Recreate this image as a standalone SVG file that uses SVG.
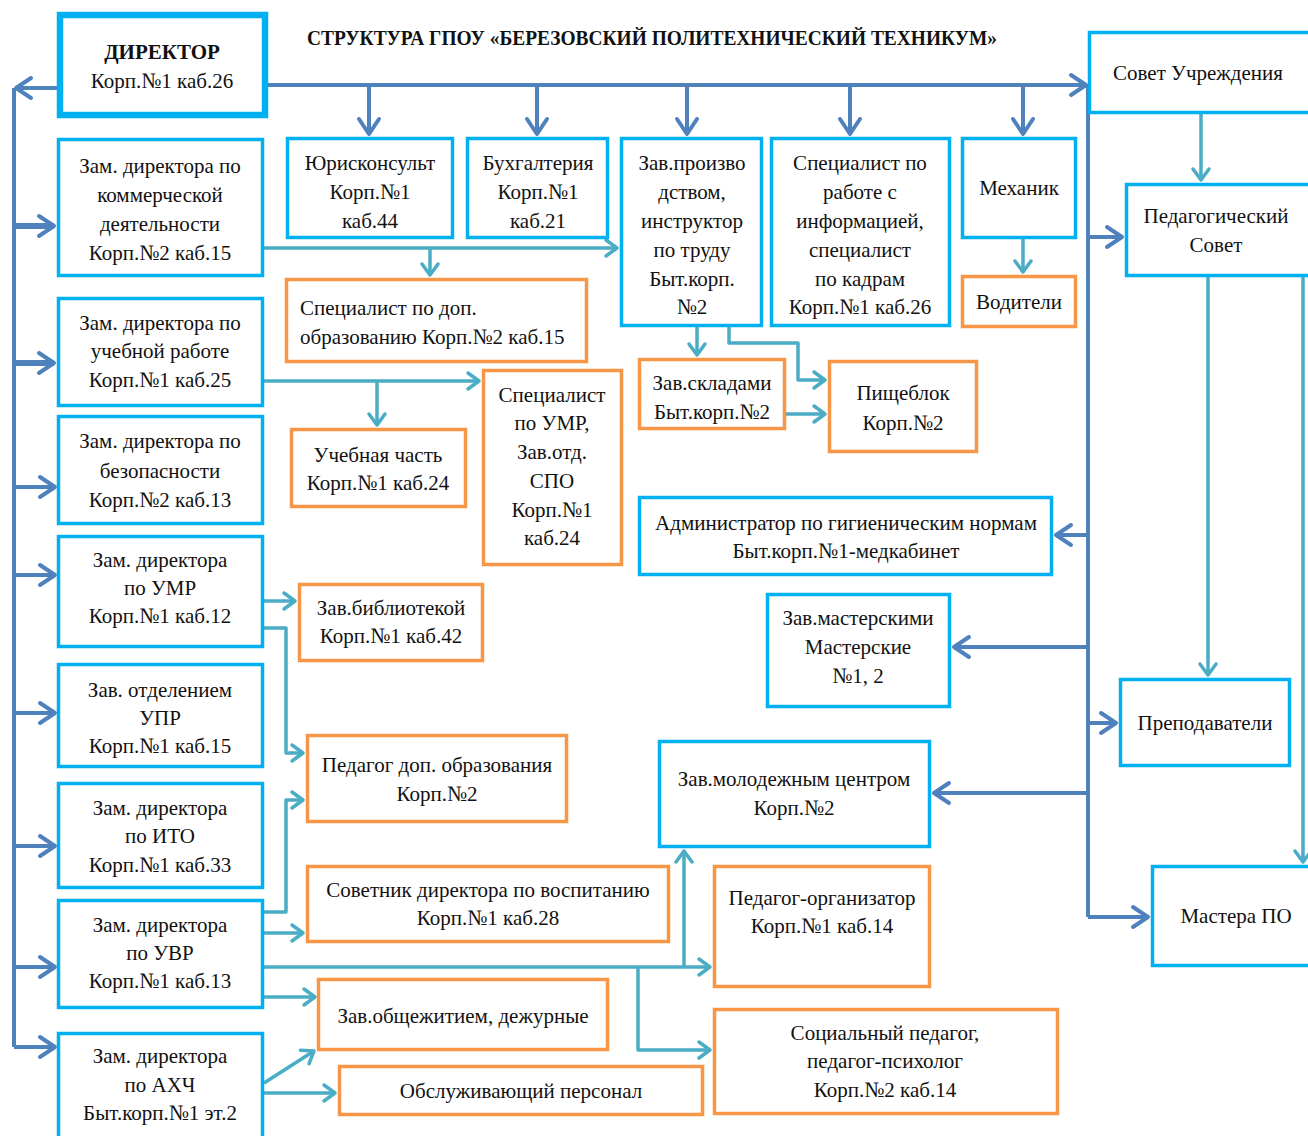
<svg xmlns="http://www.w3.org/2000/svg" width="1308" height="1136" viewBox="0 0 1308 1136">
<style>
.c{fill:#fff;stroke:#00B0F0;stroke-width:3.5}
.o{fill:#fff;stroke:#F79646;stroke-width:3.5}
.n{font-family:"Liberation Serif","Times New Roman",serif;font-size:22px;fill:#111;text-anchor:middle}
.l{text-anchor:start}
.d{fill:none;stroke:#4F81BD;stroke-width:4;stroke-linejoin:round}
.dt{fill:none;stroke:#4F81BD;stroke-width:6}
.t{fill:none;stroke:#4BACC6;stroke-width:3.5;stroke-linejoin:round}
.ttl{font-family:"Liberation Serif","Times New Roman",serif;font-size:20px;font-weight:bold;fill:#111}
</style>
<defs>
<marker id="ad" markerUnits="userSpaceOnUse" markerWidth="24" markerHeight="28" viewBox="-20 -14 24 28" refX="0" refY="0" orient="auto"><path d="M-15,-10 L0,0 L-15,10" fill="none" stroke="#4F81BD" stroke-width="4" stroke-linecap="round" stroke-linejoin="round"/></marker>
<marker id="at" markerUnits="userSpaceOnUse" markerWidth="20" markerHeight="22" viewBox="-16 -11 20 22" refX="0" refY="0" orient="auto"><path d="M-11,-8 L0,0 L-11,8" fill="none" stroke="#4BACC6" stroke-width="3.5" stroke-linecap="round" stroke-linejoin="round"/></marker>
</defs>
<rect width="1308" height="1136" fill="#fff"/>
<text class="ttl" x="307" y="45" textLength="690" lengthAdjust="spacingAndGlyphs">СТРУКТУРА ГПОУ «БЕРЕЗОВСКИЙ ПОЛИТЕХНИЧЕСКИЙ ТЕХНИКУМ»</text>

<g id="connectors">
<path class="d" d="M268,85 L1086,85" marker-end="url(#ad)"/>
<path class="d" d="M58,88 L16,88" marker-end="url(#ad)"/>
<path class="d" d="M14,88 L14,1047"/>
<path class="dt" d="M14,226 L54,226" marker-end="url(#ad)"/>
<path class="dt" d="M14,363 L54,363" marker-end="url(#ad)"/>
<path class="d" d="M14,487 L55,487" marker-end="url(#ad)"/>
<path class="d" d="M14,575 L55,575" marker-end="url(#ad)"/>
<path class="d" d="M14,713 L55,713" marker-end="url(#ad)"/>
<path class="d" d="M14,846 L55,846" marker-end="url(#ad)"/>
<path class="d" d="M14,967 L55,967" marker-end="url(#ad)"/>
<path class="d" d="M14,1047 L55,1047" marker-end="url(#ad)"/>
<path class="d" d="M369,85 L369,134" marker-end="url(#ad)"/>
<path class="d" d="M537,85 L537,134" marker-end="url(#ad)"/>
<path class="d" d="M687,85 L687,134" marker-end="url(#ad)"/>
<path class="d" d="M850,85 L850,134" marker-end="url(#ad)"/>
<path class="d" d="M1023,85 L1023,134" marker-end="url(#ad)"/>
<path class="d" d="M1088,85 L1088,917"/>
<path class="d" d="M1088,237 L1122,237" marker-end="url(#ad)"/>
<path class="d" d="M1088,535 L1056,535" marker-end="url(#ad)"/>
<path class="d" d="M1088,647 L954,647" marker-end="url(#ad)"/>
<path class="d" d="M1088,723 L1116,723" marker-end="url(#ad)"/>
<path class="d" d="M1088,793 L934,793" marker-end="url(#ad)"/>
<path class="d" d="M1088,917 L1148,917" marker-end="url(#ad)"/>
<path class="t" d="M1201,114 L1201,180" marker-end="url(#at)"/>
<path class="t" d="M1208,277 L1208,675" marker-end="url(#at)"/>
<path class="t" d="M1303,277 L1303,862" marker-end="url(#at)"/>
<path class="t" d="M1023,239 L1023,272" marker-end="url(#at)"/>
<path class="t" d="M264,248 L617,248" marker-end="url(#at)"/>
<path class="t" d="M430,248 L430,275" marker-end="url(#at)"/>
<path class="t" d="M264,381 L479,381" marker-end="url(#at)"/>
<path class="t" d="M377,381 L377,425" marker-end="url(#at)"/>
<path class="t" d="M697,327 L697,355" marker-end="url(#at)"/>
<path class="t" d="M729,327 L729,343 L798,343 L798,380 L825,380" marker-end="url(#at)"/>
<path class="t" d="M786,414 L825,414" marker-end="url(#at)"/>
<path class="t" d="M264,601 L295,601" marker-end="url(#at)"/>
<path class="t" d="M264,628 L286,628 L286,753 L303,753" marker-end="url(#at)"/>
<path class="t" d="M264,912 L286,912 L286,800 L303,800" marker-end="url(#at)"/>
<path class="t" d="M264,933 L303,933" marker-end="url(#at)"/>
<path class="t" d="M264,967 L710,967" marker-end="url(#at)"/>
<path class="t" d="M684,967 L684,851" marker-end="url(#at)"/>
<path class="t" d="M638,967 L638,1050 L710,1050" marker-end="url(#at)"/>
<path class="t" d="M264,997 L315,997" marker-end="url(#at)"/>
<path class="t" d="M264,1083 L314,1051" marker-end="url(#at)"/>
<path class="t" d="M264,1093 L335,1093" marker-end="url(#at)"/>
</g>

<g id="director"><rect x="60" y="15" width="205" height="100" fill="#fff" stroke="#00B0F0" stroke-width="6.5"/>
<text class="n" transform="translate(162 0) scale(0.955 1)"><tspan x="0" y="59" font-weight="bold">ДИРЕКТОР</tspan><tspan x="0" y="88">Корп.№1 каб.26</tspan></text></g>

<g id="sovet-uchr"><rect class="c" x="1089.5" y="32.5" width="222" height="80"/>
<text class="n" transform="translate(1198 0) scale(0.955 1)"><tspan x="0" y="80">Совет Учреждения</tspan></text></g>

<g id="ped-sovet"><rect class="c" x="1126.5" y="184.5" width="185" height="91"/>
<text class="n" transform="translate(1216 0) scale(0.955 1)"><tspan x="0" y="223">Педагогический</tspan><tspan x="0" y="252">Совет</tspan></text></g>

<g id="zam-komm"><rect class="c" x="58.5" y="139.5" width="204" height="136"/>
<text class="n" transform="translate(160 0) scale(0.955 1)"><tspan x="0" y="173">Зам. директора по</tspan><tspan x="0" y="202">коммерческой</tspan><tspan x="0" y="231">деятельности</tspan><tspan x="0" y="260">Корп.№2 каб.15</tspan></text></g>

<g id="yuriskonsult"><rect class="c" x="287.5" y="138.5" width="165" height="99"/>
<text class="n" transform="translate(370 0) scale(0.955 1)"><tspan x="0" y="170">Юрисконсульт</tspan><tspan x="0" y="199">Корп.№1</tspan><tspan x="0" y="228">каб.44</tspan></text></g>

<g id="buhgalteriya"><rect class="c" x="467.5" y="138.5" width="140" height="99"/>
<text class="n" transform="translate(538 0) scale(0.955 1)"><tspan x="0" y="170">Бухгалтерия</tspan><tspan x="0" y="199">Корп.№1</tspan><tspan x="0" y="228">каб.21</tspan></text></g>

<g id="zav-proizv"><rect class="c" x="621.5" y="138.5" width="140" height="187"/>
<text class="n" transform="translate(692 0) scale(0.955 1)"><tspan x="0" y="170">Зав.произво</tspan><tspan x="0" y="199">дством,</tspan><tspan x="0" y="228">инструктор</tspan><tspan x="0" y="257">по труду</tspan><tspan x="0" y="286">Быт.корп.</tspan><tspan x="0" y="314">№2</tspan></text></g>

<g id="spec-info"><rect class="c" x="771.5" y="138.5" width="178" height="187"/>
<text class="n" transform="translate(860 0) scale(0.955 1)"><tspan x="0" y="170">Специалист по</tspan><tspan x="0" y="199">работе с</tspan><tspan x="0" y="228">информацией,</tspan><tspan x="0" y="257">специалист</tspan><tspan x="0" y="286">по кадрам</tspan><tspan x="0" y="314">Корп.№1 каб.26</tspan></text></g>

<g id="mehanik"><rect class="c" x="962.5" y="138.5" width="113" height="99"/>
<text class="n" transform="translate(1019 0) scale(0.955 1)"><tspan x="0" y="195">Механик</tspan></text></g>

<g id="voditeli"><rect class="o" x="962.5" y="276.5" width="113" height="50"/>
<text class="n" transform="translate(1019 0) scale(0.955 1)"><tspan x="0" y="309">Водители</tspan></text></g>

<g id="spec-dop"><rect class="o" x="286.5" y="279.5" width="300" height="82"/>
<text class="n l" transform="translate(300 0) scale(0.955 1)"><tspan x="0" y="315">Специалист по доп.</tspan><tspan x="0" y="344">образованию Корп.№2 каб.15</tspan></text></g>

<g id="zam-ucheb"><rect class="c" x="58.5" y="298.5" width="204" height="107"/>
<text class="n" transform="translate(160 0) scale(0.955 1)"><tspan x="0" y="330">Зам. директора по</tspan><tspan x="0" y="358">учебной работе</tspan><tspan x="0" y="387">Корп.№1 каб.25</tspan></text></g>

<g id="spec-umr"><rect class="o" x="483.5" y="370.5" width="138" height="194"/>
<text class="n" transform="translate(552 0) scale(0.955 1)"><tspan x="0" y="402">Специалист</tspan><tspan x="0" y="430">по УМР,</tspan><tspan x="0" y="459">Зав.отд.</tspan><tspan x="0" y="488">СПО</tspan><tspan x="0" y="517">Корп.№1</tspan><tspan x="0" y="545">каб.24</tspan></text></g>

<g id="zav-sklad"><rect class="o" x="639.5" y="359.5" width="145" height="69"/>
<text class="n" transform="translate(712 0) scale(0.955 1)"><tspan x="0" y="390">Зав.складами</tspan><tspan x="0" y="419">Быт.корп.№2</tspan></text></g>

<g id="pisheblok"><rect class="o" x="829.5" y="361.5" width="147" height="90"/>
<text class="n" transform="translate(903 0) scale(0.955 1)"><tspan x="0" y="400">Пищеблок</tspan><tspan x="0" y="430">Корп.№2</tspan></text></g>

<g id="ucheb-chast"><rect class="o" x="291.5" y="429.5" width="174" height="77"/>
<text class="n" transform="translate(378 0) scale(0.955 1)"><tspan x="0" y="462">Учебная часть</tspan><tspan x="0" y="490">Корп.№1 каб.24</tspan></text></g>

<g id="zam-bezop"><rect class="c" x="58.5" y="416.5" width="204" height="107"/>
<text class="n" transform="translate(160 0) scale(0.955 1)"><tspan x="0" y="448">Зам. директора по</tspan><tspan x="0" y="478">безопасности</tspan><tspan x="0" y="507">Корп.№2 каб.13</tspan></text></g>

<g id="admin-gig"><rect class="c" x="639.5" y="497.5" width="412" height="77"/>
<text class="n" transform="translate(846 0) scale(0.955 1)"><tspan x="0" y="530">Администратор по гигиеническим нормам</tspan><tspan x="0" y="558">Быт.корп.№1-медкабинет</tspan></text></g>

<g id="zam-umr"><rect class="c" x="58.5" y="536.5" width="204" height="110"/>
<text class="n" transform="translate(160 0) scale(0.955 1)"><tspan x="0" y="567">Зам. директора</tspan><tspan x="0" y="595">по УМР</tspan><tspan x="0" y="623">Корп.№1 каб.12</tspan></text></g>

<g id="zav-bibl"><rect class="o" x="299.5" y="584.5" width="183" height="76"/>
<text class="n" transform="translate(391 0) scale(0.955 1)"><tspan x="0" y="615">Зав.библиотекой</tspan><tspan x="0" y="643">Корп.№1 каб.42</tspan></text></g>

<g id="zav-master"><rect class="c" x="767.5" y="594.5" width="182" height="112"/>
<text class="n" transform="translate(858 0) scale(0.955 1)"><tspan x="0" y="625">Зав.мастерскими</tspan><tspan x="0" y="654">Мастерские</tspan><tspan x="0" y="683">№1, 2</tspan></text></g>

<g id="zav-upr"><rect class="c" x="58.5" y="664.5" width="204" height="102"/>
<text class="n" transform="translate(160 0) scale(0.955 1)"><tspan x="0" y="697">Зав. отделением</tspan><tspan x="0" y="725">УПР</tspan><tspan x="0" y="753">Корп.№1 каб.15</tspan></text></g>

<g id="prepod"><rect class="c" x="1120.5" y="679.5" width="169" height="86"/>
<text class="n" transform="translate(1205 0) scale(0.955 1)"><tspan x="0" y="730">Преподаватели</tspan></text></g>

<g id="ped-dop"><rect class="o" x="307.5" y="735.5" width="259" height="86"/>
<text class="n" transform="translate(437 0) scale(0.955 1)"><tspan x="0" y="772">Педагог доп. образования</tspan><tspan x="0" y="801">Корп.№2</tspan></text></g>

<g id="molod"><rect class="c" x="659.5" y="741.5" width="270" height="105"/>
<text class="n" transform="translate(794 0) scale(0.955 1)"><tspan x="0" y="786">Зав.молодежным центром</tspan><tspan x="0" y="815">Корп.№2</tspan></text></g>

<g id="zam-ito"><rect class="c" x="58.5" y="783.5" width="204" height="104"/>
<text class="n" transform="translate(160 0) scale(0.955 1)"><tspan x="0" y="815">Зам. директора</tspan><tspan x="0" y="843">по ИТО</tspan><tspan x="0" y="872">Корп.№1 каб.33</tspan></text></g>

<g id="sovetnik"><rect class="o" x="307.5" y="866.5" width="361" height="75"/>
<text class="n" transform="translate(488 0) scale(0.955 1)"><tspan x="0" y="897">Советник директора по воспитанию</tspan><tspan x="0" y="925">Корп.№1 каб.28</tspan></text></g>

<g id="ped-org"><rect class="o" x="714.5" y="866.5" width="215" height="120"/>
<text class="n" transform="translate(822 0) scale(0.955 1)"><tspan x="0" y="905">Педагог-организатор</tspan><tspan x="0" y="933">Корп.№1 каб.14</tspan></text></g>

<g id="mastera"><rect class="c" x="1152.5" y="866.5" width="160" height="99"/>
<text class="n" transform="translate(1236 0) scale(0.955 1)"><tspan x="0" y="923">Мастера ПО</tspan></text></g>

<g id="zam-uvr"><rect class="c" x="58.5" y="900.5" width="204" height="107"/>
<text class="n" transform="translate(160 0) scale(0.955 1)"><tspan x="0" y="932">Зам. директора</tspan><tspan x="0" y="960">по УВР</tspan><tspan x="0" y="988">Корп.№1 каб.13</tspan></text></g>

<g id="obshezh"><rect class="o" x="318.5" y="979.5" width="289" height="70"/>
<text class="n" transform="translate(463 0) scale(0.955 1)"><tspan x="0" y="1023">Зав.общежитием, дежурные</tspan></text></g>

<g id="soc-ped"><rect class="o" x="714.5" y="1009.5" width="343" height="104"/>
<text class="n" transform="translate(885 0) scale(0.955 1)"><tspan x="0" y="1040">Социальный педагог,</tspan><tspan x="0" y="1068">педагог-психолог</tspan><tspan x="0" y="1097">Корп.№2 каб.14</tspan></text></g>

<g id="zam-ahch"><rect class="c" x="58.5" y="1033.5" width="204" height="110"/>
<text class="n" transform="translate(160 0) scale(0.955 1)"><tspan x="0" y="1063">Зам. директора</tspan><tspan x="0" y="1092">по АХЧ</tspan><tspan x="0" y="1120">Быт.корп.№1 эт.2</tspan></text></g>

<g id="obsluzh"><rect class="o" x="339.5" y="1066.5" width="363" height="48"/>
<text class="n" transform="translate(521 0) scale(0.955 1)"><tspan x="0" y="1098">Обслуживающий персонал</tspan></text></g>
</svg>
